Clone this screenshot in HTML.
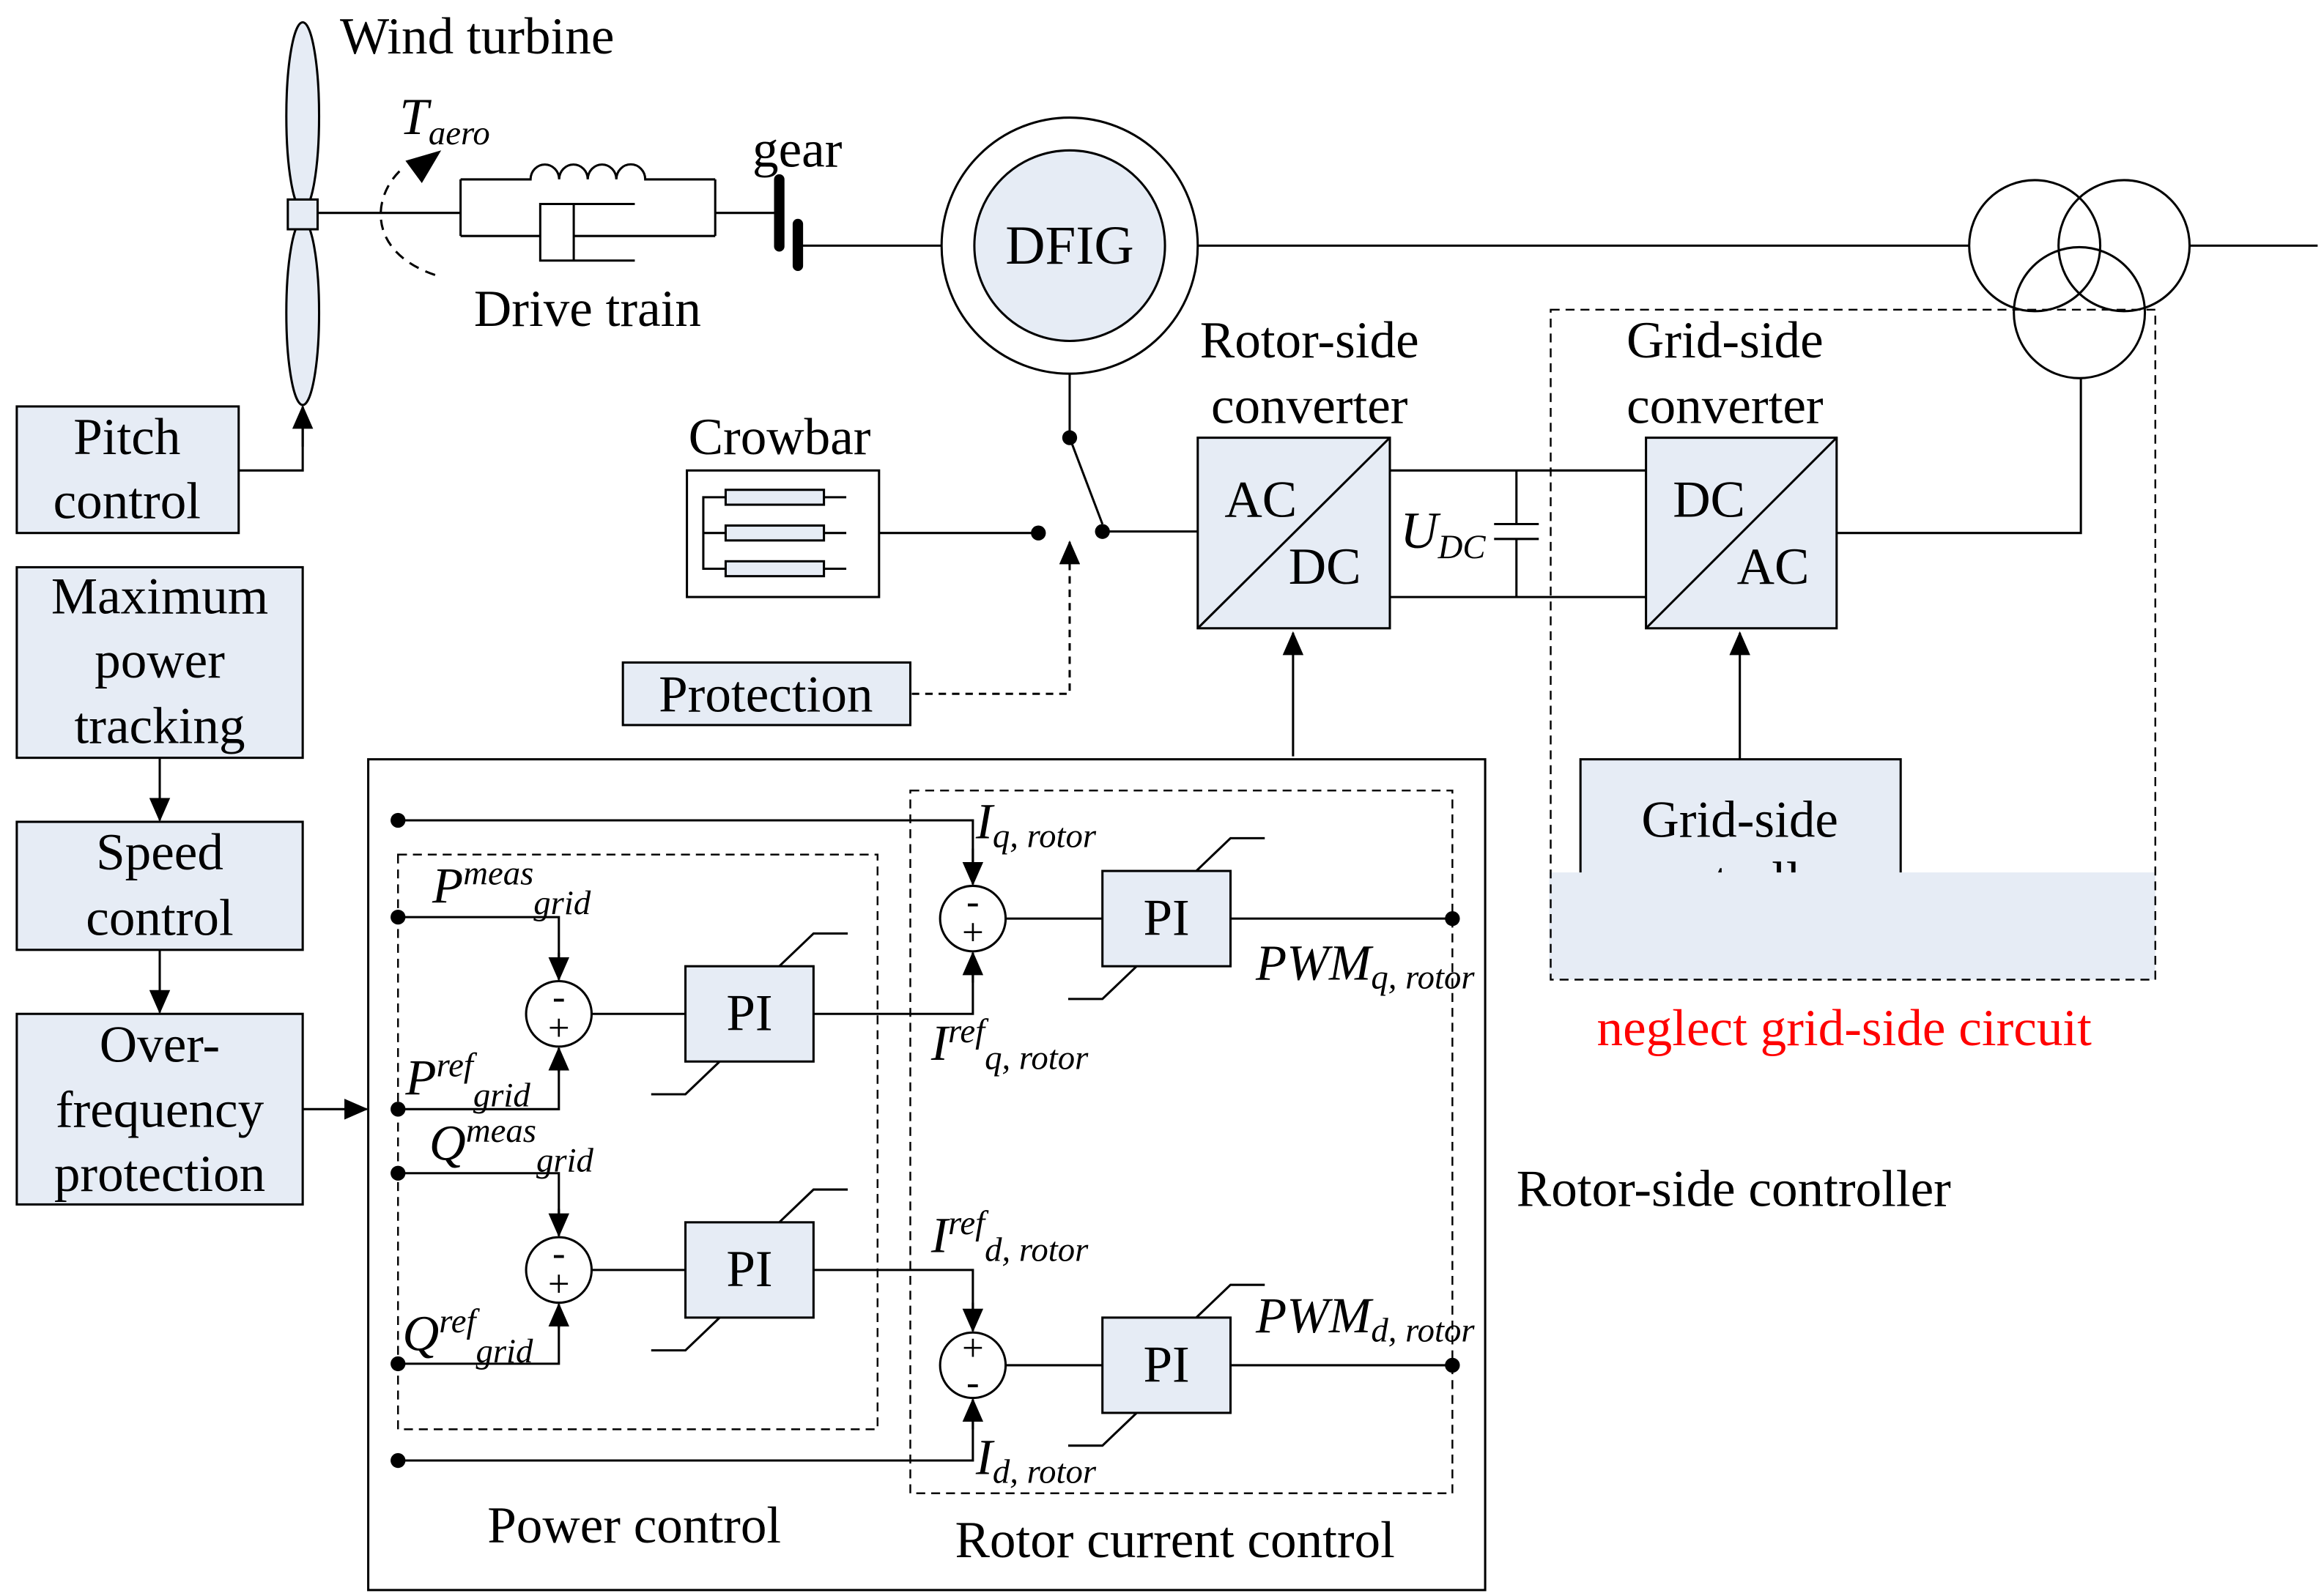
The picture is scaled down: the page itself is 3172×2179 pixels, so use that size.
<!DOCTYPE html>
<html><head><meta charset="utf-8"><style>html,body{margin:0;padding:0;background:#fff}svg{display:block}</style></head>
<body>
<svg width="3172" height="2179" viewBox="0 0 1560 1072" xmlns="http://www.w3.org/2000/svg" font-family="Liberation Serif, serif">
<defs>
<marker id="b" markerWidth="16" markerHeight="14" refX="15" refY="7" orient="auto" markerUnits="userSpaceOnUse"><path d="M0,0 L16,7 L0,14 z" fill="#000"/></marker>
</defs>
<g fill="none" stroke="#000" stroke-width="1.5">
<!-- turbine -->
<ellipse cx="203" cy="78" rx="11" ry="63" fill="#e6ecf5"/>
<ellipse cx="203" cy="210" rx="11" ry="62" fill="#e6ecf5"/>
<rect x="193" y="134" width="20" height="20" fill="#e6ecf5"/>
<line x1="213" y1="143" x2="309" y2="143"/>
<path d="M268,115 C248,135 248,172 296,186" stroke-dasharray="7,5"/>
<!-- drive train -->
<path d="M309,120.5 V158.5 M480,120.5 V158.5"/>
<path d="M309,120.5 H356 a9.6,10 0 0 1 19.2,0 a9.6,10 0 0 1 19.2,0 a9.6,10 0 0 1 19.2,0 a9.6,10 0 0 1 19.4,0 H480"/>
<path d="M309,158.5 H362.5 M385,158.5 H480"/>
<path d="M426,137 H362.5 V175 H426"/>
<line x1="385" y1="137" x2="385" y2="175"/>
<line x1="480" y1="143" x2="523" y2="143"/>
<line x1="536" y1="165" x2="632" y2="165"/>
<!-- DFIG -->
<circle cx="718" cy="165" r="86"/>
<circle cx="718" cy="165" r="64" fill="#e6ecf5"/>
<line x1="804" y1="165" x2="1322" y2="165"/>
<circle cx="1366" cy="165" r="44"/><circle cx="1426" cy="165" r="44"/><circle cx="1396" cy="210" r="44"/>
<line x1="1470" y1="165" x2="1556" y2="165"/>
<line x1="718" y1="251" x2="718" y2="294"/>
<line x1="718" y1="294" x2="740" y2="352"/>
<line x1="740" y1="357" x2="804" y2="357"/>
<line x1="590" y1="358" x2="697" y2="358"/>
<path d="M612,466 H718 V366" stroke-dasharray="5,4"/>
<line x1="718" y1="380" x2="718" y2="364" marker-end="url(#b)"/>
<!-- crowbar -->
<rect x="461" y="316" width="129" height="85"/>
<rect x="487" y="329" width="66" height="10" fill="#e6ecf5"/>
<rect x="487" y="353" width="66" height="10" fill="#e6ecf5"/>
<rect x="487" y="377" width="66" height="10" fill="#e6ecf5"/>
<path d="M487,334 H472 V382 H487 M472,358 H487 M553,334 H568 M553,358 H568 M553,382 H568"/>
<rect x="418" y="445" width="193" height="42" fill="#e6ecf5"/>
<!-- converters -->
<rect x="804" y="294" width="129" height="128" fill="#e6ecf5"/><line x1="804" y1="422" x2="933" y2="294"/>
<rect x="1105" y="294" width="128" height="128" fill="#e6ecf5"/><line x1="1105" y1="422" x2="1233" y2="294"/>
<line x1="933" y1="316" x2="1105" y2="316"/><line x1="933" y1="401" x2="1105" y2="401"/>
<path d="M1018,316 V352 M1003,352 H1033 M1003,362 H1033 M1018,362 V401"/>
<path d="M1233,358 H1397 V254"/>
<line x1="868" y1="508" x2="868" y2="425" marker-end="url(#b)"/>
<line x1="1168" y1="510" x2="1168" y2="425" marker-end="url(#b)"/>
<rect x="1061" y="510" width="215" height="100" fill="#e6ecf5"/>
<!-- left column -->
<rect x="11" y="273" width="149" height="85" fill="#e6ecf5"/>
<path d="M160,316 H203 V274" /><line x1="203" y1="300" x2="203" y2="273" marker-end="url(#b)"/>
<rect x="11" y="381" width="192" height="128" fill="#e6ecf5"/>
<rect x="11" y="552" width="192" height="86" fill="#e6ecf5"/>
<rect x="11" y="681" width="192" height="128" fill="#e6ecf5"/>
<line x1="107" y1="509" x2="107" y2="551" marker-end="url(#b)"/>
<line x1="107" y1="638" x2="107" y2="680" marker-end="url(#b)"/>
<line x1="203" y1="745" x2="246" y2="745" marker-end="url(#b)"/>
<!-- controller -->
<rect x="247" y="510" width="750" height="558"/>
<rect x="267" y="574" width="322" height="386" stroke-dasharray="6,4" stroke-width="1.2"/>
<rect x="611" y="531" width="364" height="472" stroke-dasharray="6,4" stroke-width="1.2"/>
<path d="M267,551 H653 V594"/><line x1="653" y1="570" x2="653" y2="594" marker-end="url(#b)"/>
<path d="M267,981 H653 V940"/><line x1="653" y1="960" x2="653" y2="940" marker-end="url(#b)"/>
<path d="M267,616 H375 V658"/><line x1="375" y1="640" x2="375" y2="658" marker-end="url(#b)"/>
<path d="M267,745 H375 V704"/><line x1="375" y1="720" x2="375" y2="704" marker-end="url(#b)"/>
<path d="M267,788 H375 V830"/><line x1="375" y1="812" x2="375" y2="830" marker-end="url(#b)"/>
<path d="M267,916 H375 V876"/><line x1="375" y1="892" x2="375" y2="876" marker-end="url(#b)"/>
<circle cx="375" cy="681" r="22"/><circle cx="375" cy="853" r="22"/>
<circle cx="653" cy="617" r="22"/><circle cx="653" cy="917" r="22"/>
<line x1="397" y1="681" x2="460" y2="681"/><line x1="397" y1="853" x2="460" y2="853"/>
<path d="M546,681 H653 V640"/><line x1="653" y1="660" x2="653" y2="640" marker-end="url(#b)"/>
<path d="M546,853 H653 V894"/><line x1="653" y1="875" x2="653" y2="894" marker-end="url(#b)"/>
<line x1="675" y1="617" x2="740" y2="617"/><line x1="675" y1="917" x2="740" y2="917"/>
<line x1="826" y1="617" x2="975" y2="617"/><line x1="826" y1="917" x2="975" y2="917"/>
<rect x="460" y="649" width="86" height="64" fill="#e6ecf5"/>
<rect x="460" y="821" width="86" height="64" fill="#e6ecf5"/>
<rect x="740" y="585" width="86" height="64" fill="#e6ecf5"/>
<rect x="740" y="885" width="86" height="64" fill="#e6ecf5"/>
<path d="M523,649 L546,627 H569 M483,713 L460,735 H437"/>
<path d="M523,821 L546,799 H569 M483,885 L460,907 H437"/>
<path d="M803,585 L826,563 H849 M763,649 L740,671 H717"/>
<path d="M803,885 L826,863 H849 M763,949 L740,971 H717"/>
</g>
<path d="M296,101 L283,123 L272,108 z" fill="#000"/>
<!-- gear bars -->
<rect x="519.5" y="117" width="7" height="52" rx="3.5" fill="#000"/>
<rect x="532" y="147" width="7" height="35" rx="3.5" fill="#000"/>
<g fill="#000">
<circle cx="718" cy="294" r="5"/><circle cx="740" cy="357" r="5"/><circle cx="697" cy="358" r="5"/>
<circle cx="267" cy="551" r="5"/><circle cx="267" cy="616" r="5"/><circle cx="267" cy="745" r="5"/>
<circle cx="267" cy="788" r="5"/><circle cx="267" cy="916" r="5"/><circle cx="267" cy="981" r="5"/>
<circle cx="975" cy="617" r="5"/><circle cx="975" cy="917" r="5"/>
</g>
<g font-size="35" fill="#000">
<text x="1168" y="562" text-anchor="middle">Grid-side</text>
<text x="1168" y="603" text-anchor="middle">controller</text>
</g>
<!-- grid-side cover -->
<rect x="1040" y="586" width="407" height="72" fill="#e6ecf5"/>
<rect x="1041" y="208" width="406" height="450" fill="none" stroke="#000" stroke-width="1.2" stroke-dasharray="6,4"/>
<g font-size="35" fill="#000">
<text x="228" y="36">Wind turbine</text>
<text x="268" y="90" font-style="italic">T<tspan font-size="23" dy="7">aero</tspan></text>
<text x="318" y="219">Drive train</text>
<text x="505" y="112">gear</text>
<text x="718" y="177" text-anchor="middle" font-size="37">DFIG</text>
<text x="879" y="240" text-anchor="middle">Rotor-side</text>
<text x="879" y="284" text-anchor="middle">converter</text>
<text x="1158" y="240" text-anchor="middle">Grid-side</text>
<text x="1158" y="284" text-anchor="middle">converter</text>
<text x="462" y="305">Crowbar</text>
<text x="514" y="478" text-anchor="middle">Protection</text>
<text x="822" y="347">AC</text><text x="865" y="392">DC</text>
<text x="1123" y="347">DC</text><text x="1166" y="392">AC</text>
<text x="940" y="368" font-style="italic">U<tspan font-size="23" dy="7">DC</tspan></text>
<text x="1072" y="702" fill="#ff0000">neglect grid-side circuit</text>
<text x="1018" y="810">Rotor-side controller</text>
<text x="85" y="305" text-anchor="middle">Pitch</text>
<text x="85" y="348" text-anchor="middle">control</text>
<text x="107" y="412" text-anchor="middle">Maximum</text>
<text x="107" y="455" text-anchor="middle">power</text>
<text x="107" y="499" text-anchor="middle">tracking</text>
<text x="107" y="584" text-anchor="middle">Speed</text>
<text x="107" y="628" text-anchor="middle">control</text>
<text x="107" y="713" text-anchor="middle">Over-</text>
<text x="107" y="757" text-anchor="middle">frequency</text>
<text x="107" y="800" text-anchor="middle">protection</text>
<text x="503" y="692" text-anchor="middle">PI</text>
<text x="503" y="864" text-anchor="middle">PI</text>
<text x="783" y="628" text-anchor="middle">PI</text>
<text x="783" y="928" text-anchor="middle">PI</text>
<text x="327" y="1036">Power control</text>
<text x="641" y="1046">Rotor current control</text>
</g>
<g font-size="26" fill="#000" text-anchor="middle">
<text x="375" y="678">-</text><text x="375" y="699">+</text>
<text x="375" y="850">-</text><text x="375" y="871">+</text>
<text x="653" y="614">-</text><text x="653" y="635">+</text>
<text x="653" y="914">+</text><text x="653" y="937">-</text>
</g>
<g font-style="italic" fill="#000" font-size="34">
<text x="290" y="606">P<tspan font-size="23" dy="-12">meas</tspan><tspan font-size="23" dy="20">grid</tspan></text>
<text x="272" y="735">P<tspan font-size="23" dy="-12">ref</tspan><tspan font-size="23" dy="20">grid</tspan></text>
<text x="288" y="779">Q<tspan font-size="23" dy="-12">meas</tspan><tspan font-size="23" dy="20">grid</tspan></text>
<text x="270" y="907">Q<tspan font-size="23" dy="-12">ref</tspan><tspan font-size="23" dy="20">grid</tspan></text>
<text x="655" y="563">I<tspan font-size="23" dy="6">q, rotor</tspan></text>
<text x="625" y="712">I<tspan font-size="23" dy="-12">ref</tspan><tspan font-size="23" dy="18">q, rotor</tspan></text>
<text x="625" y="841">I<tspan font-size="23" dy="-12">ref</tspan><tspan font-size="23" dy="18">d, rotor</tspan></text>
<text x="655" y="990">I<tspan font-size="23" dy="6">d, rotor</tspan></text>
<text x="843" y="658">PWM<tspan font-size="23" dy="6">q, rotor</tspan></text>
<text x="843" y="895">PWM<tspan font-size="23" dy="6">d, rotor</tspan></text>
</g>
</svg>
</body></html>
